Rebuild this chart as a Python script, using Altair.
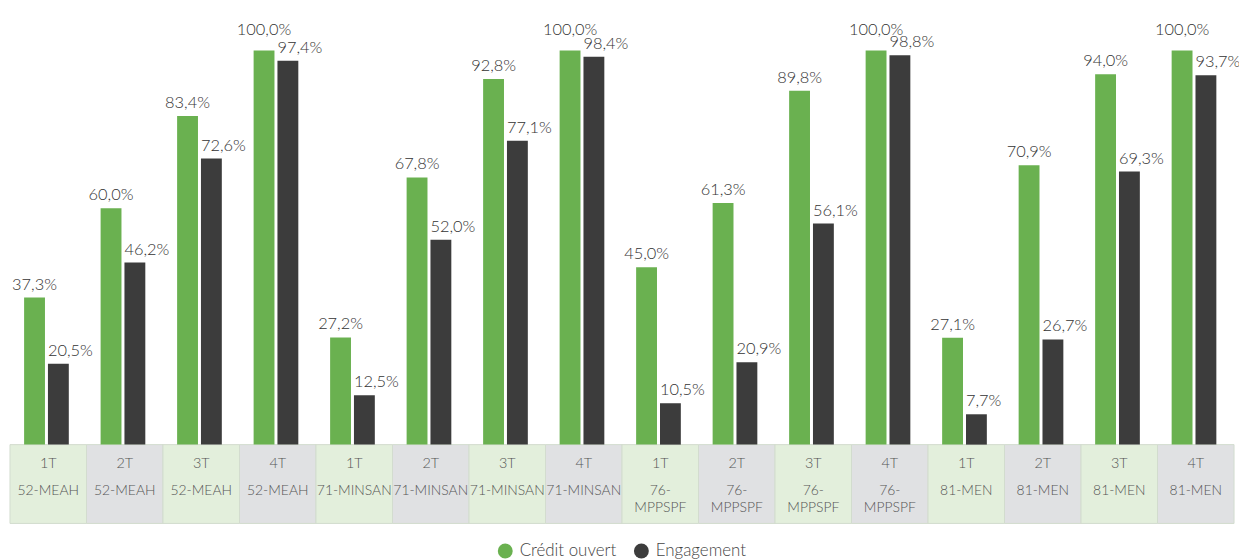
import altair as alt
import pandas as pd

quarters = ["1T", "2T", "3T", "4T"] * 4
depts = ["52-MEAH"] * 4 + ["71-MINSAN"] * 4 + ["76-\nMPPSPF"] * 4 + ["81-MEN"] * 4
credit = [37.3, 60.0, 83.4, 100.0, 27.2, 67.8, 92.8, 100.0,
          45.0, 61.3, 89.8, 100.0, 27.1, 70.9, 94.0, 100.0]
engagement = [20.5, 46.2, 72.6, 97.4, 12.5, 52.0, 77.1, 98.4,
              10.5, 20.9, 56.1, 98.8, 7.7, 26.7, 69.3, 93.7]
series_names = ["Crédit ouvert", "Engagement"]

GREEN = "#6ab150"
DARK = "#3c3c3c"
FONT = "Lato"


def fmt(v):
    return f"{v:.1f}".replace(".", ",") + "%"


rows = []
for i in range(len(credit)):
    for s, vals in zip(series_names, [credit, engagement]):
        rows.append(dict(g=i, serie=s, value=vals[i], label=fmt(vals[i])))
bars_df = pd.DataFrame(rows)
cells_df = pd.DataFrame(dict(g=list(range(len(quarters))), quarter=quarters,
                             dept=depts, shade=["a", "b"] * 8))

xenc = alt.X("g:O", axis=None, scale=alt.Scale(paddingInner=0, paddingOuter=0))
yscale = alt.Scale(domain=[-20, 100], nice=False, zero=False)
xoff = alt.XOffset("serie:N", scale=alt.Scale(domain=series_names, paddingInner=0.125,
                                              paddingOuter=0.667, align=0.444))

cells = alt.Chart(cells_df).mark_rect(stroke="#d3dccf", strokeWidth=1).encode(
    x=xenc,
    y=alt.Y(datum=-20, scale=yscale, axis=None),
    y2=alt.Y2(datum=0),
    fill=alt.Fill("shade:N", scale=alt.Scale(domain=["a", "b"], range=["#e3efdc", "#e0e1e3"]), legend=None),
)

q_text = alt.Chart(cells_df).mark_text(font=FONT, fontSize=14.5, fontWeight=300, color="#555555",
                                       baseline="middle").encode(
    x=xenc, y=alt.value(416), text="quarter:N"
)
d_text = alt.Chart(cells_df).mark_text(font=FONT, fontSize=14, fontWeight=300, color="#555555",
                                       baseline="top", lineBreak="\n", lineHeight=17).encode(
    x=xenc, y=alt.value(436), text="dept:N"
)

bars = alt.Chart(bars_df).mark_bar().encode(
    x=xenc,
    xOffset=xoff,
    y=alt.Y("value:Q", scale=yscale, axis=None),
    y2=alt.Y2(datum=0),
    color=alt.Color("serie:N", scale=alt.Scale(domain=series_names, range=[GREEN, DARK]),
                    legend=alt.Legend(title=None, orient="none", legendX=490, legendY=495,
                                      direction="horizontal", symbolType="circle", symbolSize=225,
                                      labelFontSize=17, labelFont=FONT, labelFontWeight=300,
                                      labelColor="#444444",
                                      columnPadding=16, labelOffset=6, padding=0)),
)

# lift a green label a little when the neighbouring dark bar is almost as tall
labels_base = alt.Chart(bars_df).transform_joinaggregate(
    minv="min(value)", groupby=["g"]
).transform_calculate(
    ly="datum.serie == 'Crédit ouvert' && datum.value - datum.minv < 7 ? datum.value + 2.0 : datum.value"
)

lab_credit = labels_base.transform_filter(alt.datum.serie == series_names[0]).mark_text(
    font=FONT, fontSize=16.5, fontWeight=300, color="#333333", align="center", baseline="alphabetic", dy=-8
).encode(x=xenc, xOffset=xoff, y=alt.Y("ly:Q", scale=yscale, axis=None), text="label:N")

lab_eng = labels_base.transform_filter(alt.datum.serie == series_names[1]).mark_text(
    font=FONT, fontSize=16.5, fontWeight=300, color="#333333", align="left", baseline="alphabetic",
    dy=-8, dx=-10.5
).encode(x=xenc, xOffset=xoff, y=alt.Y("ly:Q", scale=yscale, axis=None), text="label:N")

chart = alt.layer(cells, q_text, d_text, bars, lab_credit, lab_eng).properties(
    width=1232, height=476,
    autosize=alt.AutoSizeParams(type="none"),
    padding={"left": 2, "top": 41, "right": 5, "bottom": 35},
).configure_view(strokeWidth=0)

chart.save("out.html", embed_options={"renderer": "svg", "actions": False})
